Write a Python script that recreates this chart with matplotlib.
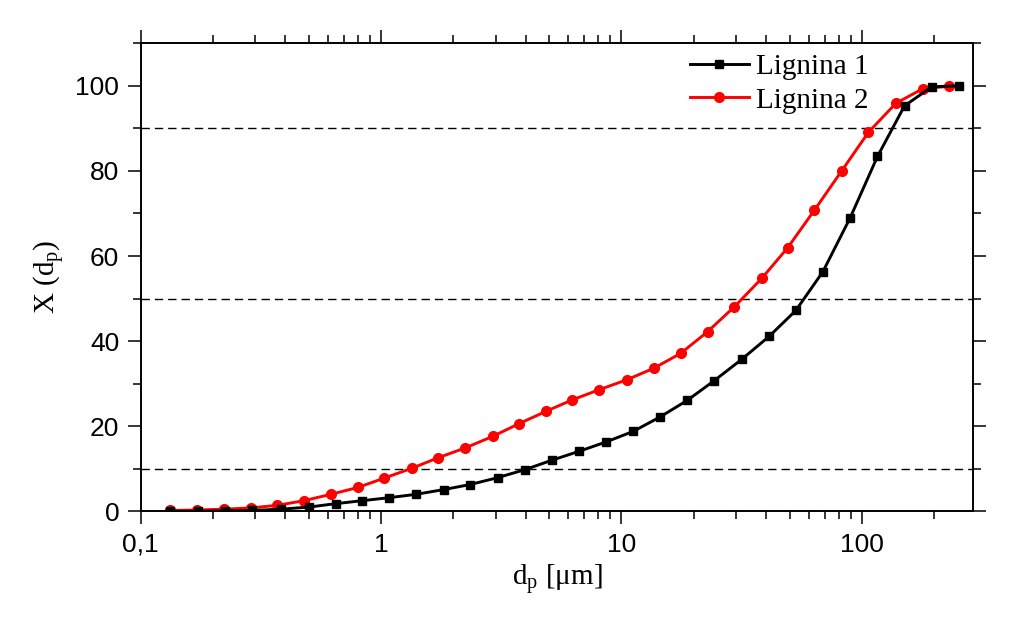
import numpy as np
import matplotlib
matplotlib.use('Agg')
import matplotlib.pyplot as plt
from matplotlib.ticker import MultipleLocator, FixedLocator, FixedFormatter, LogLocator, NullFormatter


# particle size [um] and cumulative undersize X(dp) [%]
dp_l1 = [0.133, 0.174, 0.224, 0.290, 0.384, 0.502, 0.648, 0.836, 1.08, 1.40,
         1.82, 2.35, 3.05, 3.97, 5.13, 6.66, 8.63, 11.2, 14.5, 18.8,
         24.3, 31.6, 41.1, 53.1, 68.8, 89.4, 116.1, 150.4, 195.5, 252.3]
x_l1 = [0.0, 0.0, 0.1, 0.2, 0.5, 1.0, 1.8, 2.5, 3.2, 4.0,
        5.1, 6.3, 7.9, 9.8, 12.0, 14.1, 16.3, 18.8, 22.2, 26.1,
        30.7, 35.7, 41.1, 47.2, 56.3, 69.0, 83.4, 95.3, 99.8, 100.0]

dp_l2 = [0.133, 0.171, 0.223, 0.287, 0.370, 0.478, 0.619, 0.800, 1.03, 1.34,
         1.73, 2.24, 2.91, 3.75, 4.85, 6.25, 8.10, 10.5, 13.6, 17.6,
         22.8, 29.5, 38.4, 49.2, 63.5, 82.6, 106.5, 138.5, 178.7, 230.8]
x_l2 = [0.2, 0.3, 0.5, 0.8, 1.4, 2.5, 4.0, 5.6, 7.8, 10.1,
        12.6, 14.9, 17.6, 20.6, 23.5, 26.2, 28.6, 30.9, 33.6, 37.1,
        42.2, 48.1, 54.8, 62.0, 70.8, 80.1, 89.1, 95.9, 99.3, 99.9]

ref_levels = [10, 50, 90]
xticks = [0.1, 1, 10, 100]
xtick_labels = ['0,1', '1', '10', '100']

serif = 'Liberation Serif'
sans = 'Liberation Sans'

fig = plt.figure(figsize=(10.26, 6.24), dpi=100)
ax = fig.add_axes([0.1371, 0.1806, 0.8113, 0.75])

for lev in ref_levels:
    ax.axhline(lev, color='black', lw=1.0, dashes=(6, 3.6), zorder=1)

ax.plot(dp_l1, x_l1, color='black', lw=2.1, marker='s', ms=6, label='Lignina 1', zorder=3)
ax.plot(dp_l2, x_l2, color='red', lw=2.1, marker='o', ms=7, label='Lignina 2', zorder=2)

ax.set_xscale('log')
ax.set_xlim(0.1, 290)
ax.set_ylim(0, 110)

ax.xaxis.set_major_locator(FixedLocator(xticks))
ax.xaxis.set_major_formatter(FixedFormatter(xtick_labels))
ax.xaxis.set_minor_locator(LogLocator(base=10, subs=np.arange(2, 10)))
ax.xaxis.set_minor_formatter(NullFormatter())
ax.yaxis.set_major_locator(MultipleLocator(20))
ax.yaxis.set_minor_locator(MultipleLocator(10))

ax.tick_params(which='both', direction='out', top=True, right=True,
               labeltop=False, labelright=False, width=1.1)
ax.tick_params(which='major', length=9.4, pad=6)
ax.tick_params(which='minor', length=5.5)
for lab in ax.get_xticklabels() + ax.get_yticklabels():
    lab.set_fontfamily(sans)
    lab.set_fontsize(19)
for sp in ax.spines.values():
    sp.set_linewidth(1.4)

ax.set_xlabel(r'd$_\mathregular{p}$ [μm]', fontfamily=serif, fontsize=21)
ax.set_ylabel(r'X (d$_\mathregular{p}$)', fontfamily=serif, fontsize=21, labelpad=6)

leg = ax.legend(loc='upper left', bbox_to_anchor=(0.648, 1.0), frameon=False,
                prop={'family': serif, 'size': 21}, handlelength=2.0,
                handletextpad=0.25, labelspacing=0.25, borderpad=0.35,
                borderaxespad=0)

fig.savefig('out.png', dpi=100, facecolor='white')
